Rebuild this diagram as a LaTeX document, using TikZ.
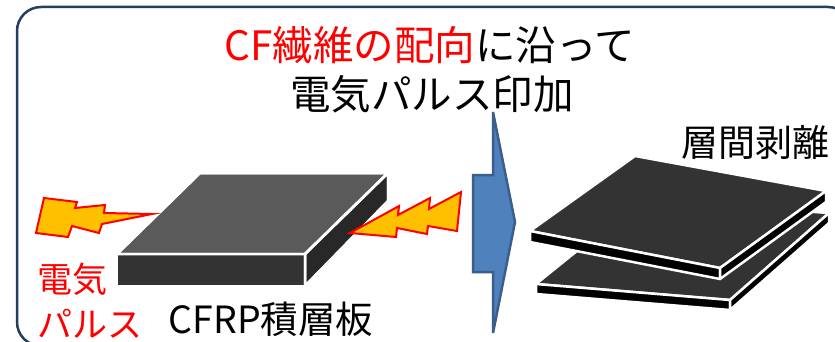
\documentclass[tikz,border=0pt]{standalone}
\usepackage{fontspec}
\setmainfont{Noto Sans CJK JP}
\definecolor{framenavy}{HTML}{243F60}
\definecolor{boltyellow}{HTML}{FFC000}
\definecolor{arrowblue}{HTML}{4F81BD}
\definecolor{arrowedge}{HTML}{3A5F8C}
\definecolor{plategray}{HTML}{5A5A5A}
\definecolor{platedark}{HTML}{333333}
\definecolor{plateside}{HTML}{282828}
\begin{document}
\begin{tikzpicture}[x=1pt,y=-1pt,
  frame/.style={draw=framenavy, line width=2.5pt, rounded corners=24pt},
  bolt/.style={fill=boltyellow, draw=red, line width=2pt, line join=miter},
  face/.style={draw=white, line width=2.5pt, line join=round},
  bigarrow/.style={fill=arrowblue, draw=arrowedge, line width=2.5pt, line join=miter},
  lbl/.style={inner sep=0pt, outer sep=0pt}
]
\useasboundingbox (0,0) rectangle (835,342);
\clip (0,0) rectangle (835,342);
\fill[white] (0,0) rectangle (835,342);

% rounded frame, running off the right and bottom edges
\draw[frame] (17,7) rectangle (852,346);

% titles
\node[lbl, font=\fontsize{40.5}{44}\selectfont] (title1) at (430,45)
  {{\color{red}CF繊維の配向}に沿って};
\node[lbl, font=\fontsize{40.5}{44}\selectfont] (title2) at (432,94) {電気パルス印加};

% CFRP laminate block
\fill[face, fill=plategray] (117,254) -- (200,173) -- (388,173) -- (305,254) -- cycle;
\fill[face, fill=platedark] (117,254) -- (305,254) -- (305,286) -- (117,286) -- cycle;
\fill[face, fill=plateside] (305,254) -- (388,173) -- (388,201) -- (305,286) -- cycle;
\draw[face] (117,254) -- (200,173) -- (388,173) -- (305,254) -- cycle;
\draw[face] (117,254) rectangle (305,286);
\draw[face] (305,254) -- (388,173) -- (388,201) -- (305,286) -- cycle;

% lightning bolts
\draw[bolt] (44,198) -- (77,202) -- (75,208) -- (105,205) -- (104,213) -- (152,214)
  -- (102,224) -- (99,233) -- (72,226) -- (68,237) -- (36,233) -- cycle;
\draw[bolt] (350,233) -- (399,206) -- (398,215) -- (430,198) -- (429,209) -- (461,192)
  -- (457,231) -- (428,226) -- (427,234) -- (397,228) -- (396,237) -- cycle;

% block arrow
\draw[bigarrow] (473,175) -- (493,175) -- (493,112) -- (515,222) -- (493,333)
  -- (493,272) -- (473,272) -- cycle;

% delaminated plies: lower ply
\filldraw[face, fill=platedark] (536,284) -- (640,200) -- (829,213) -- (730,300) -- cycle;
\filldraw[face, fill=black] (536,284) -- (730,300) -- (730,310) -- (536,294) -- cycle;
\filldraw[face, fill=black] (730,300) -- (829,213) -- (829,223) -- (730,310) -- cycle;
% upper ply
\filldraw[face, fill=platedark] (530,231) -- (635,156) -- (826,191) -- (720,268) -- cycle;
\filldraw[face, fill=black] (530,231) -- (720,268) -- (720,279) -- (530,242) -- cycle;
\filldraw[face, fill=black] (720,268) -- (826,191) -- (826,202) -- (720,279) -- cycle;

% labels
\node[lbl, font=\fontsize{37}{40}\selectfont] (peel) at (755,142) {層間剥離};
\node[lbl, font=\fontsize{37.5}{40}\selectfont] (cfrp) at (271,319) {CFRP積層板};
\node[lbl, anchor=west, text=red, font=\fontsize{35}{45}\selectfont, align=left]
  (pulse) at (37,301) {電気\\パルス};
\end{tikzpicture}
\end{document}
